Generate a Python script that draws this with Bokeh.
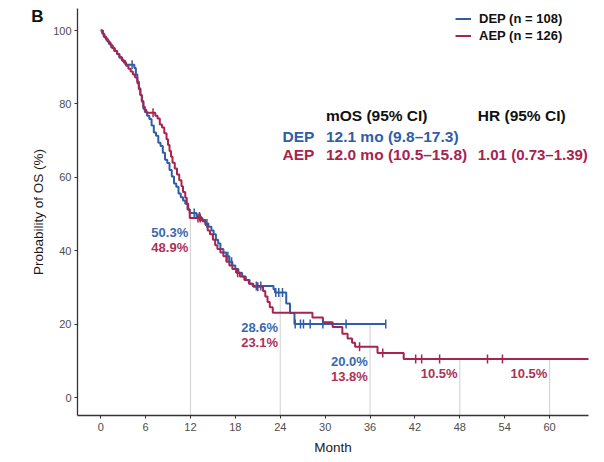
import numpy as np
from bokeh.plotting import figure
from bokeh.models import Legend, LegendItem, FixedTicker, LinearAxis
from bokeh.core.properties import value
from bokeh.embed import file_html
from bokeh.resources import INLINE

# ---------------- data ----------------
dep_time = [0.3, 0.5, 0.8, 1.1, 1.4, 1.8, 2.2, 2.5, 2.9, 3.3, 4.5, 4.7, 4.9, 5.1, 5.3,
            5.5, 5.7, 5.9, 6.2, 6.5, 6.8, 7.1, 7.4, 7.7, 8.0, 8.3, 8.6, 8.9, 9.2, 9.5,
            9.8, 10.1, 10.4, 10.7, 11.0, 11.3, 11.6, 11.9, 12.8, 13.4, 14.0, 14.4, 14.8,
            15.1, 15.4, 15.7, 16.0, 16.4, 16.8, 17.2, 17.6, 18.0, 18.4, 18.9, 19.4, 19.9,
            20.3, 23.1, 23.3, 24.8, 25.3, 25.9]
dep_surv = [99.1, 98.1, 97.2, 96.3, 95.4, 94.4, 93.5, 92.6, 91.7, 90.7, 89.8, 88.0, 86.1,
            84.3, 82.4, 80.6, 78.7, 77.8, 76.8, 75.9, 74.1, 72.2, 71.3, 69.4, 68.5, 66.7,
            64.8, 63.9, 62.0, 60.2, 58.3, 57.4, 55.6, 54.6, 53.7, 52.8, 51.2, 50.3, 49.3,
            48.4, 47.4, 46.5, 45.5, 44.5, 43.0, 42.0, 40.5, 39.5, 38.5, 37.0, 36.0, 35.0,
            34.0, 33.0, 32.0, 31.0, 30.4, 29.5, 28.6, 25.6, 23.0, 20.0]
dep_end = 38.1
dep_censor = [4.2, 12.5, 13.2, 14.2, 17.0, 17.5, 20.8, 21.4, 23.4, 23.8, 24.3,
              26.0, 26.7, 27.1, 28.0, 29.7, 32.8, 38.1]

aep_time = [0.2, 0.4, 0.7, 1.0, 1.3, 1.6, 1.9, 2.2, 2.5, 2.8, 3.1, 3.4, 3.7, 4.0, 4.3,
            4.6, 4.9, 5.1, 5.3, 5.5, 5.7, 5.9, 6.1, 7.3, 7.6, 7.9, 8.2, 8.5, 8.8, 9.0,
            9.2, 9.4, 9.6, 9.9, 10.2, 10.5, 10.8, 11.0, 11.3, 11.5, 11.7, 11.9, 13.6,
            14.0, 14.3, 14.6, 15.0, 15.3, 15.6, 16.0, 16.4, 16.8, 17.2, 17.6, 18.1, 18.6,
            19.2, 19.8, 20.4, 21.7, 22.0, 22.3, 22.6, 23.0, 28.3, 29.7, 31.0, 32.3, 33.0,
            33.6, 34.0, 37.0, 40.5]
aep_surv = [99.2, 98.4, 97.6, 96.8, 96.0, 95.2, 94.4, 93.6, 92.8, 92.0, 91.2, 90.4, 89.6,
            88.8, 88.0, 87.2, 85.6, 84.0, 82.4, 80.8, 79.2, 78.4, 77.6, 76.8, 76.0, 74.4,
            73.6, 72.0, 70.4, 68.8, 67.2, 65.6, 64.0, 62.4, 60.8, 59.2, 57.6, 56.0, 54.4,
            52.8, 51.2, 48.9, 48.0, 47.0, 45.5, 44.5, 43.0, 41.5, 40.5, 39.5, 38.5, 37.0,
            36.0, 35.0, 34.0, 33.0, 32.0, 31.0, 30.2, 29.0, 27.5, 26.0, 24.6, 23.1, 21.8,
            20.5, 19.2, 17.4, 16.1, 14.9, 13.8, 12.1, 10.5]
aep_end = 66.0
aep_censor = [7.0, 13.0, 13.3, 18.3, 21.0, 34.6, 37.7, 42.1, 42.9, 45.3, 51.7, 53.7]

landmarks = [12, 24, 36, 48, 60]
dep_landmark = [50.3, 28.6, 20.0, None, None]
aep_landmark = [48.9, 23.1, 13.8, 10.5, 10.5]

x_ticks = [0, 6, 12, 18, 24, 30, 36, 42, 48, 54, 60]
y_ticks = [0, 20, 40, 60, 80, 100]

dep_label = "DEP (n = 108)"
aep_label = "AEP (n = 126)"
table_header = ["mOS (95% CI)", "HR (95% CI)"]
dep_row = ["DEP", "12.1 mo (9.8\u201317.3)"]
aep_row = ["AEP", "12.0 mo (10.5\u201315.8)"]
aep_hr = ["1.01 (0.73\u20131.39)"]
panel_letter = "B"

# ---------------- styles ----------------
BLUE = "#2f5ea6"
RED = "#a8234f"
BLUE_T = "#3a69ae"
RED_T = "#ad3158"
FONT = "Liberation Sans"
Y_TOP = 106.0

p = figure(width=604, height=462, x_range=(-3.1, 65.2), y_range=(-4.9, Y_TOP),
           output_backend="svg", toolbar_location=None,
           min_border_left=77, min_border_right=16, min_border_top=8, min_border_bottom=47)
p.xgrid.visible = False
p.ygrid.visible = False
p.outline_line_color = None
p.background_fill_color = "white"
p.border_fill_color = "white"


def step_arrays(times, survs, end):
    xs = [0.0] + list(times) + [end]
    ys = [100.0] + list(survs) + [survs[-1]]
    return xs, ys


def surv_at(t, times, survs):
    tt = np.array([0.0] + list(times))
    ss = np.array([100.0] + list(survs))
    idx = np.searchsorted(tt, np.asarray(t), side="right") - 1
    return ss[idx]


# landmark vertical lines
tops = [max(v for v in (d, a) if v is not None) for d, a in zip(dep_landmark, aep_landmark)]
p.segment(x0=landmarks, y0=[-4.9] * len(landmarks), x1=landmarks, y1=tops,
          line_color="#d6d6d6", line_width=1.2)

# curves
dx, dy = step_arrays(dep_time, dep_surv, dep_end)
ax, ay = step_arrays(aep_time, aep_surv, aep_end)
dep_line = p.step(dx, dy, mode="after", line_color=BLUE, line_width=2)
aep_line = p.step(ax, ay, mode="after", line_color=RED, line_width=2)

dep_cs = p.scatter(dep_censor, surv_at(dep_censor, dep_time, dep_surv), marker="dash",
                   angle=np.pi / 2, size=9, line_color=BLUE, line_width=1.5)
aep_cs = p.scatter(aep_censor, surv_at(aep_censor, aep_time, aep_surv), marker="dash",
                   angle=np.pi / 2, size=9, line_color=RED, line_width=1.5)

# landmark labels
bx, by, bt, rx, ry, rt = [], [], [], [], [], []
for lm, d, a in zip(landmarks, dep_landmark, aep_landmark):
    lo = min(v for v in (d, a) if v is not None)
    if d is not None:
        bx.append(lm - 0.3); by.append(lo - 4.0); bt.append(f"{d:.1f}%")
        rx.append(lm - 0.3); ry.append(lo - 8.0); rt.append(f"{a:.1f}%")
    else:
        rx.append(lm - 0.3); ry.append(lo - 4.0); rt.append(f"{a:.1f}%")
p.text(bx, by, text=bt, text_align="right", text_baseline="middle", text_color=BLUE_T,
       text_font=value(FONT), text_font_style="bold", text_font_size="13px")
p.text(rx, ry, text=rt, text_align="right", text_baseline="middle", text_color=RED_T,
       text_font=value(FONT), text_font_style="bold", text_font_size="13px")

# table of medians / HR
col_x = [24.3, 30.1, 50.4]
row_y = [76.8, 71.1, 66.2]
p.text([col_x[1], col_x[2]], [row_y[0]] * 2, text=table_header, text_baseline="middle",
       text_color="#111111", text_font=value(FONT), text_font_style="bold",
       text_font_size="15.5px")
p.text(col_x[:2], [row_y[1]] * 2, text=dep_row, text_baseline="middle", text_color=BLUE,
       text_font=value(FONT), text_font_style="bold", text_font_size="15.5px")
p.text(col_x[:2], [row_y[2]] * 2, text=aep_row, text_baseline="middle", text_color=RED,
       text_font=value(FONT), text_font_style="bold", text_font_size="15.5px")
p.text(col_x[2:], [row_y[2]], text=aep_hr, text_baseline="middle", text_color=RED,
       text_font=value(FONT), text_font_style="bold", text_font_size="15px")

# legend
legend = Legend(items=[LegendItem(label=dep_label, renderers=[dep_line, dep_cs]),
                       LegendItem(label=aep_label, renderers=[aep_line, aep_cs])],
                location=(378, 371), orientation="vertical")
legend.background_fill_alpha = 0
legend.border_line_color = None
legend.padding = 0
legend.margin = 0
legend.spacing = 0
legend.label_height = 17
legend.glyph_height = 17
legend.glyph_width = 16
legend.label_standoff = 8
legend.label_text_font = FONT
legend.label_text_font_style = "bold"
legend.label_text_font_size = "13px"
legend.label_text_color = "#111111"
p.add_layout(legend, "center")

# axes
for ax_ in (p.xaxis[0], p.yaxis[0]):
    ax_.axis_line_color = "#333333"
    ax_.axis_line_width = 1.3
    ax_.major_tick_line_color = "#333333"
    ax_.major_tick_in = 0
    ax_.major_tick_out = 3
    ax_.minor_tick_line_color = None
    ax_.major_label_text_font = FONT
    ax_.major_label_text_font_size = "11px"
    ax_.major_label_text_color = "#4d4d4d"
    ax_.axis_label_text_font = FONT
    ax_.axis_label_text_font_size = "13.5px"
    ax_.axis_label_text_font_style = "normal"
    ax_.axis_label_text_color = "#1a1a1a"
p.xaxis.ticker = FixedTicker(ticks=x_ticks)
p.yaxis.ticker = FixedTicker(ticks=y_ticks)
p.xaxis.axis_label = "Month"
p.yaxis.axis_label = "Probability of OS (%)"
p.xaxis.major_label_standoff = 4
p.xaxis.axis_label_standoff = 6
p.yaxis.major_label_standoff = 3
p.yaxis.axis_label_standoff = 4

# panel letter, drawn as the single label of a bare outer axis (not clipped by the frame)
letter_y = 103.8
letter_axis = LinearAxis(ticker=FixedTicker(ticks=[letter_y]),
                         major_label_overrides={letter_y: panel_letter},
                         axis_line_color=None, major_tick_line_color=None,
                         minor_tick_line_color=None, major_tick_out=0, major_tick_in=0,
                         major_label_standoff=-15,
                         major_label_text_font=FONT, major_label_text_font_style="bold",
                         major_label_text_font_size="17px", major_label_text_color="#111111")
p.add_layout(letter_axis, "left")

open("out.html", "w").write(file_html(p, INLINE))
